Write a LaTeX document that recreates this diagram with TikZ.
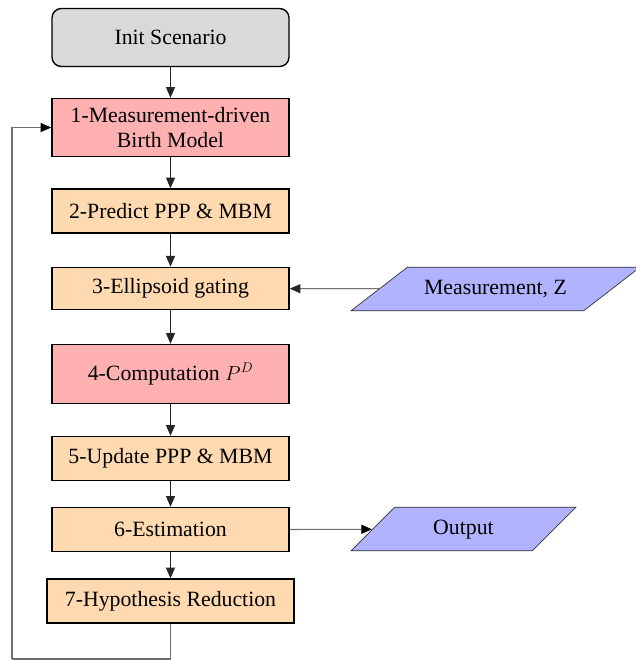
\documentclass[tikz,border=0pt]{standalone}
\usepackage{fontspec}
\setmainfont{Liberation Serif}
\usetikzlibrary{
    shapes.geometric,
    arrows.meta,
    positioning,
    calc
}
\definecolor{initgray}{HTML}{D9D9D9}
\definecolor{birth}{HTML}{FFB1B1}
\definecolor{stage}{HTML}{FFDAB0}
\definecolor{iodata}{HTML}{B1B3FF}
\definecolor{wire}{HTML}{6E6E6E}
\tikzset{
    % Base block style
    block/.style={
        rectangle,
        minimum width=7.11cm,
        minimum height=1.32cm,
        align=center,
        inner sep=2pt,
        font=\fontsize{18.6}{21}\selectfont,
        draw=black,
        fill=#1,
        line width=1.2pt
    },
    % Start block
    start/.style={
        block=initgray,
        rounded corners=8pt,
        minimum height=1.74cm
    },
    % Input / output parallelogram
    iobox/.style={
        trapezium,
        trapezium stretches body,
        text height=13pt,
        text depth=4pt,
        inner ysep=10.1pt,
        inner xsep=2pt,
        font=\fontsize{18.6}{21}\selectfont,
        draw=black!80,
        fill=iodata,
        line width=0.6pt
    },
    % Arrow styles
    flow/.style={
        -{Triangle[length=3.2mm, width=2.7mm]},
        line width=0.7pt,
        color=black!85
    },
    backflow/.style={
        line width=0.9pt,
        color=wire
    }
}
\begin{document}
\begin{tikzpicture}[x=0.03cm, y=-0.03cm]
        \useasboundingbox (0,0) rectangle (636,660);

        % Main chain
        \node[start] (init) at (170.5, 37.5) {Init Scenario};
        \node[block=birth, minimum height=1.74cm] (birth) at (170.5, 127.5) {1-Measurement-driven\\Birth Model};
        \node[block=stage] (predict) at (170.5, 211) {2-Predict PPP \& MBM};
        \node[block=stage, minimum height=1.27cm] (gating) at (170.5, 288.5) {3-Ellipsoid gating};
        \node[block=birth, minimum height=1.77cm] (pd) at (170.5, 374) {4-Computation $P^D$};
        \node[block=stage] (update) at (170.5, 458.5) {5-Update PPP \& MBM};
        \node[block=stage] (estim) at (170.5, 529.5) {6-Estimation};
        \node[block=stage, minimum width=7.41cm] (reduce) at (170.5, 601) {7-Hypothesis Reduction};

        % Input and output
        \node[iobox, trapezium left angle=37.7, trapezium right angle=142.3, minimum width=8.67cm] (meas) at (495.5, 289) {Measurement, Z};
        \node[iobox, trapezium left angle=45, trapezium right angle=135, minimum width=6.75cm] (out) at (463.5, 529) {Output};

        % Loop corner
        \coordinate (loop) at (12, 659);

        % Connections
        \draw[flow] (init) -- (birth);
        \draw[flow] (birth) -- (predict);
        \draw[flow] (predict) -- (gating);
        \draw[flow] (gating) -- (pd);
        \draw[flow] (pd) -- (update);
        \draw[flow] (update) -- (estim);
        \draw[flow] (estim) -- (reduce);
        \draw[flow] (meas) -- (gating);
        \draw[backflow, -{Triangle[length=3.2mm, width=2.7mm, color=black]}] (estim.east) -- (out);

        % Feedback to birth model
        \draw[backflow] (reduce.south) |- (loop);
        \draw[backflow, -{Triangle[length=3.2mm, width=2.7mm, color=black]}] (loop) |- (birth.west);

    \end{tikzpicture}
\end{document}
